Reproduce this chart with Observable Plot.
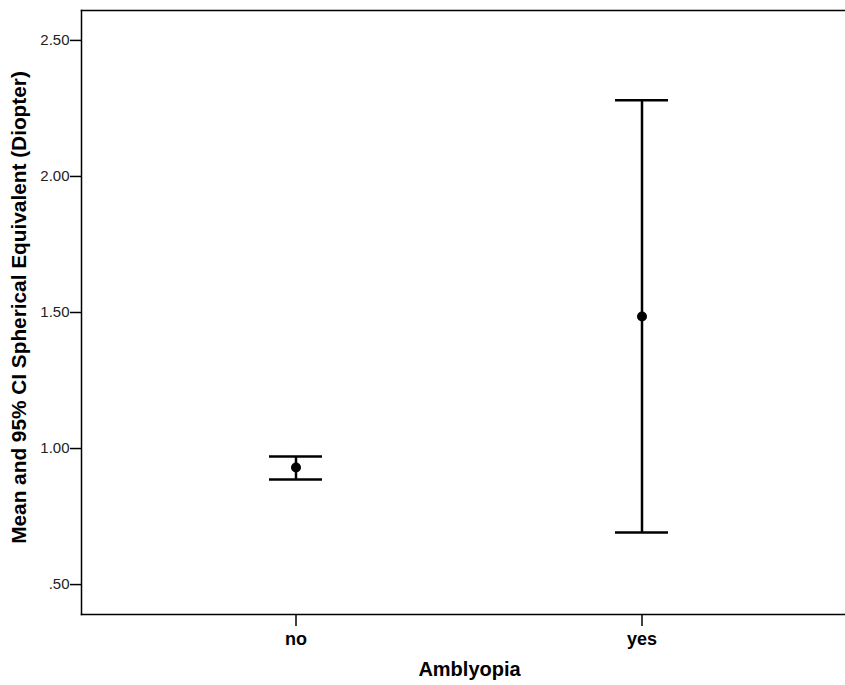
<!DOCTYPE html>
<html>
<head>
<meta charset="utf-8">
<script src="https://cdn.jsdelivr.net/npm/d3@7"></script>
<script src="https://cdn.jsdelivr.net/npm/@observablehq/plot@0.6"></script>
<style>
  html, body { margin: 0; padding: 0; background: #fff; }
  #chart { width: 845px; height: 685px; }
  svg { font-family: "Liberation Sans", Arial, sans-serif; }
</style>
</head>
<body>
<div id="chart"></div>
<script>
const categories = ["no", "yes"];
const means = [0.930, 1.485];
const lowerCI = [0.886, 0.691];
const upperCI = [0.971, 2.280];
const yTicks = [0.5, 1.0, 1.5, 2.0, 2.5];
const xTitle = "Amblyopia";
const yTitle = "Mean and 95% CI Spherical Equivalent (Diopter)";

const data = categories.map((c, i) => ({cat: c, mean: means[i], lo: lowerCI[i], hi: upperCI[i]}));

const fmt = v => d3.format(".2f")(v).replace(/^0\./, ".");

const chart = Plot.plot({
  width: 845,
  height: 685,
  marginLeft: 81,
  marginRight: 0,
  marginTop: 10,
  marginBottom: 71,
  style: {fontFamily: '"Liberation Sans", Arial, sans-serif', background: "#fff", overflow: "visible"},
  x: {type: "band", domain: categories, range: [268.5, 668.5], paddingInner: 0.847, paddingOuter: 0, axis: null},
  y: {domain: [0.39, 2.61], axis: null},
  marks: [
    Plot.axisY({ticks: yTicks, tickFormat: fmt, tickSize: 11, tickPadding: 1, fontSize: 15, fill: "#222", strokeWidth: 1.5, label: null}),
    Plot.axisX({tickSize: 12, tickPadding: 6, fontSize: 18, fontWeight: "bold", fill: "#000", strokeWidth: 1.5, label: null}),
    Plot.frame({anchor: "top", stroke: "#000", strokeWidth: 1.5}),
    Plot.frame({anchor: "bottom", stroke: "#000", strokeWidth: 1.5}),
    Plot.frame({anchor: "left", stroke: "#000", strokeWidth: 1.5}),
    Plot.ruleX(data, {x: "cat", y1: "lo", y2: "hi", stroke: "#000", strokeWidth: 2.5}),
    Plot.tickY(data, {x: "cat", y: "lo", stroke: "#000", strokeWidth: 2.5}),
    Plot.tickY(data, {x: "cat", y: "hi", stroke: "#000", strokeWidth: 2.5}),
    Plot.dot(data, {x: "cat", y: "mean", r: 5, fill: "#000", stroke: "none"}),
    Plot.text([yTitle], {frameAnchor: "left", dx: -62, dy: -5, rotate: -90, textAnchor: "middle", fontSize: 20.8, fontWeight: "bold", fill: "#000"}),
    Plot.text([xTitle], {frameAnchor: "bottom", dx: 6, dy: 61, textAnchor: "middle", fontSize: 20, fontWeight: "bold", fill: "#000"})
  ]
});
document.getElementById("chart").appendChild(chart);
</script>
</body>
</html>
